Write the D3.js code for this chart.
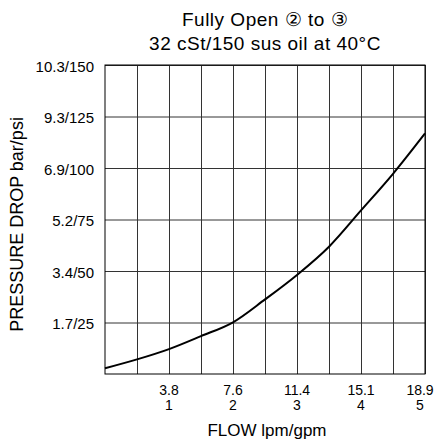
<!DOCTYPE html>
<html>
<head>
<meta charset="utf-8">
<script src="https://cdn.jsdelivr.net/npm/d3@7"></script>
<style>
    body { margin: 0; background: #fff; }
    text { font-family: "Liberation Sans", Arial, sans-serif; fill: #000; }
</style>
</head>
<body>
<script>
// flow in gpm, pressure drop in psi
var flowGpm = [0, 0.5, 1, 1.5, 2, 2.5, 3, 3.5, 4, 4.5, 5];
var dropPsi = [2.8, 7.1, 12.1, 18.4, 25.1, 36.2, 48.1, 61.8, 79.4, 97.2, 116.8];

var xGrid = [0.5, 1, 1.5, 2, 2.5, 3, 3.5, 4, 4.5, 5];
var xTicks = [1, 2, 3, 4, 5];
var xLpm = ["3.8", "7.6", "11.4", "15.1", "18.9"];
var yTicks = [25, 50, 75, 100, 125, 150];
var yLabels = ["1.7/25", "3.4/50", "5.2/75", "6.9/100", "9.3/125", "10.3/150"];

var svgWidth = 436, svgHeight = 441;
var margin = { top: 65, right: 11, bottom: 67, left: 105 };
var width = svgWidth - margin.left - margin.right;
var height = svgHeight - margin.top - margin.bottom;

var svg = d3.select("body").append("svg")
    .attr("width", svgWidth)
    .attr("height", svgHeight);

var g = svg.append("g")
    .attr("transform", "translate(" + margin.left + "," + margin.top + ")");

var xscale = d3.scaleLinear().domain([0, 5]).range([0, width]);
var yscale = d3.scaleLinear().domain([0, 150]).range([height, 0]);

// horizontal grid + y labels
var yAxis = g.append("g")
    .call(d3.axisLeft(yscale)
        .tickValues(yTicks)
        .tickSizeInner(-width)
        .tickSizeOuter(0)
        .tickPadding(11)
        .tickFormat(function(d, i) { return yLabels[i]; }));
yAxis.select(".domain").remove();
yAxis.selectAll("line").attr("stroke", "#333");
yAxis.selectAll("text")
    .attr("font-size", "15px")
    .attr("dy", "0.4em")
    .attr("font-family", "Liberation Sans, Arial, sans-serif");

// vertical grid
var xAxis = g.append("g")
    .attr("transform", "translate(0," + height + ")")
    .call(d3.axisBottom(xscale)
        .tickValues(xGrid)
        .tickSizeInner(-height)
        .tickSizeOuter(0)
        .tickFormat(""));
xAxis.select(".domain").remove();
xAxis.selectAll("line").attr("stroke", "#333");

// two-line x labels (lpm over gpm)
var xg = g.append("g").attr("transform", "translate(0," + height + ")");
function labelX(d, i) {
    var shift = i == xTicks.length - 1 ? -5 : 0;
    return xscale(d) + shift;
}
xg.selectAll(".lpm")
    .data(xTicks)
    .enter().append("text")
    .attr("class", "lpm")
    .attr("text-anchor", "middle")
    .attr("font-size", "14px")
    .attr("x", labelX)
    .attr("y", 21)
    .text(function(d, i) { return xLpm[i]; });
xg.selectAll(".gpm")
    .data(xTicks)
    .enter().append("text")
    .attr("class", "gpm")
    .attr("text-anchor", "middle")
    .attr("font-size", "14px")
    .attr("x", labelX)
    .attr("y", 36)
    .text(function(d) { return d; });

// frame
g.append("rect")
    .attr("width", width)
    .attr("height", height)
    .attr("fill", "none")
    .attr("stroke", "#000")
    .attr("stroke-width", 1);

// curve
var line = d3.line()
    .x(function(d, i) { return xscale(flowGpm[i]); })
    .y(function(d) { return yscale(d); })
    .curve(d3.curveMonotoneX);

g.append("path").datum(dropPsi)
    .attr("fill", "none")
    .attr("stroke", "#000")
    .attr("stroke-width", 2)
    .attr("stroke-linejoin", "round")
    .attr("d", line);

// titles
svg.append("text")
    .attr("x", 265).attr("y", 26)
    .attr("text-anchor", "middle")
    .attr("font-size", "19px")
    .attr("letter-spacing", "0.5px")
    .text("Fully Open \u2461 to \u2462");
svg.append("text")
    .attr("x", 265).attr("y", 50)
    .attr("text-anchor", "middle")
    .attr("font-size", "19px")
    .attr("letter-spacing", "0.5px")
    .text("32 cSt/150 sus oil at 40\u00B0C");

svg.append("text")
    .attr("x", 267).attr("y", 436)
    .attr("text-anchor", "middle")
    .attr("font-size", "17px")
    .text("FLOW lpm/gpm");

svg.append("text")
    .attr("transform", "translate(23," + (margin.top + height / 2 + 5) + ") rotate(-90)")
    .attr("text-anchor", "middle")
    .attr("font-size", "18px")
    .text("PRESSURE DROP bar/psi");
</script>
</body>
</html>
